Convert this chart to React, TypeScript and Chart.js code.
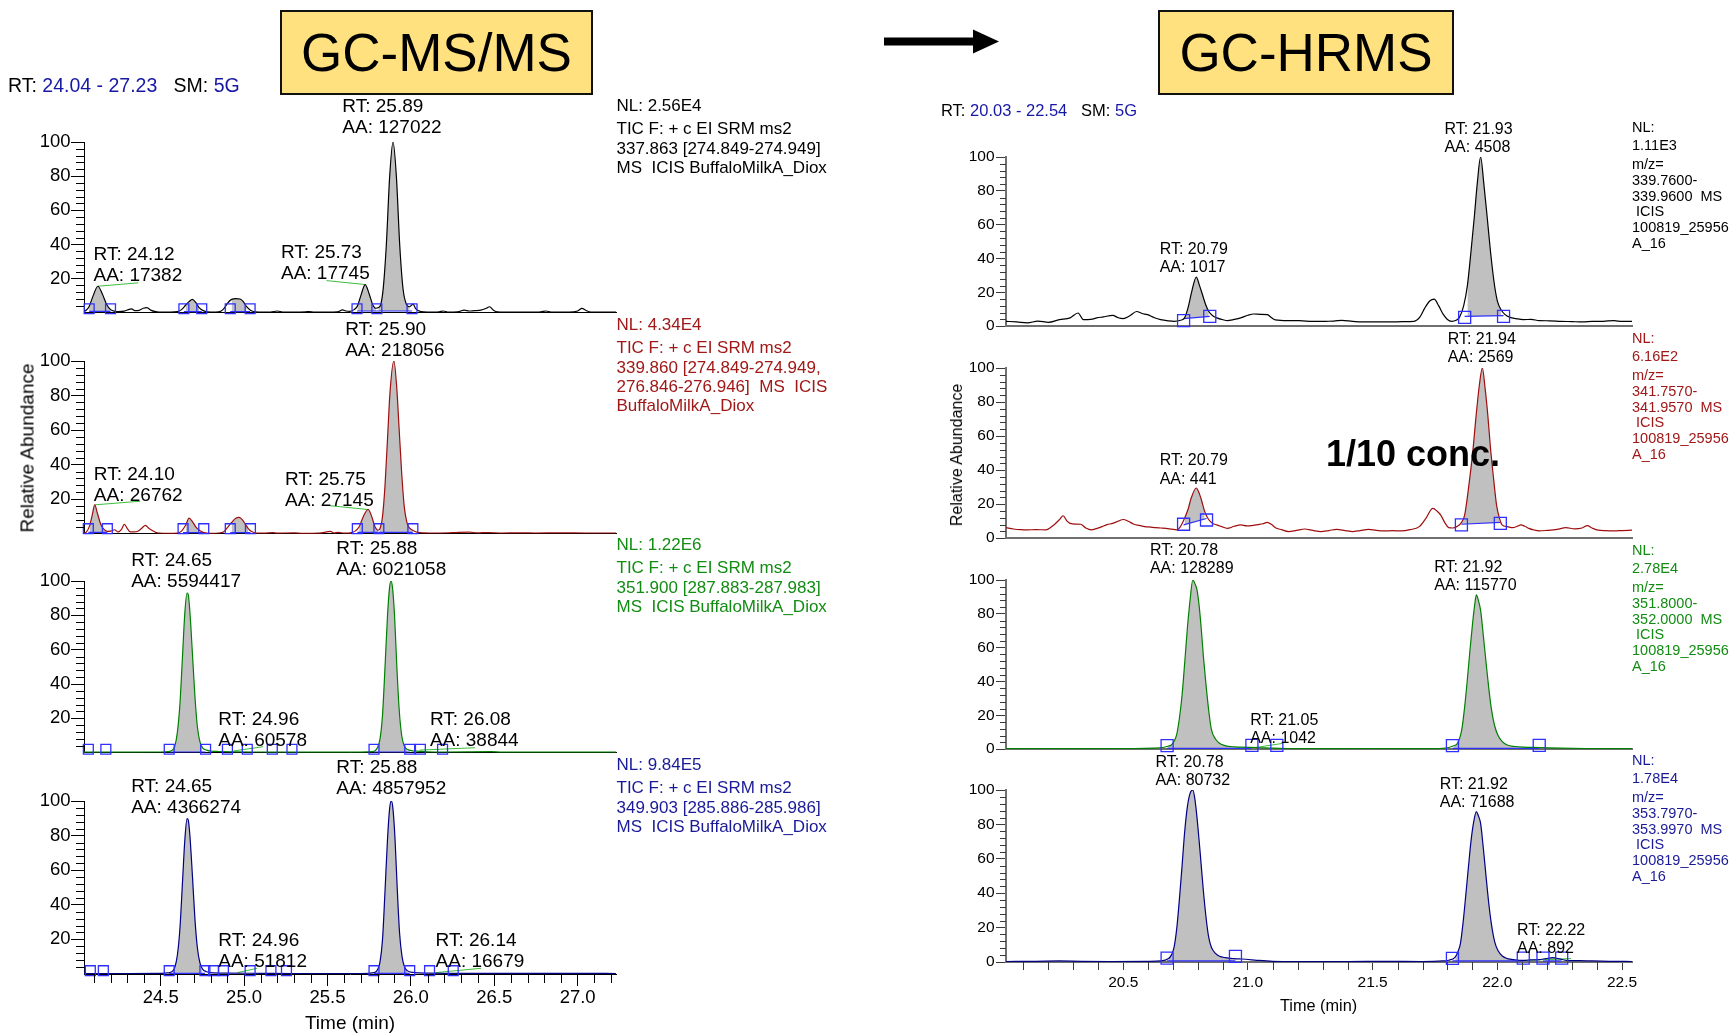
import React, { useEffect, useRef } from "react";
import { Chart, registerables } from "chart.js";

Chart.register(...registerables);

type P = [number, number];
type Seg = [P, P];

const FONT = '"Liberation Sans", Arial, Helvetica, sans-serif';

// ---------------- axes ----------------
const msTimeRange: P = [24.04, 27.23];
const hrTimeRange: P = [20.03, 22.54];
const msTimeTicks = [24.5, 25.0, 25.5, 26.0, 26.5, 27.0];
const hrTimeTicks = [20.5, 21.0, 21.5, 22.0, 22.5];
const msAbundTicks = [20, 40, 60, 80, 100];
const hrAbundTicks = [0, 20, 40, 60, 80, 100];

// ---------------- GC-MS/MS traces (time min, relative abundance %) ----------------
const msTrace337: P[] = [
  [24.04, 0.6], [24.05, 1.2], [24.07, 3.5], [24.095, 10], [24.123, 15.5], [24.15, 11], [24.175, 5], [24.2, 1.8], [24.225, 0.8],
  [24.25, 0.6], [24.28, 0.9], [24.3, 1.6], [24.325, 2.2], [24.345, 1.2], [24.37, 1.4], [24.395, 2.6], [24.418, 3], [24.44, 1.5],
  [24.47, 0.6], [24.51, 0.3], [24.56, 0.3], [24.6, 0.6], [24.625, 1.8], [24.65, 4.5], [24.67, 6.5], [24.69, 7.8], [24.71, 6],
  [24.73, 3], [24.755, 1.2], [24.78, 0.5], [24.83, 0.3], [24.86, 0.8], [24.88, 2.5], [24.9, 5.5], [24.925, 7.8], [24.95, 8.3],
  [24.975, 8], [24.995, 6.5], [25.015, 3.5], [25.04, 1.3], [25.07, 0.5], [25.11, 0.3], [25.16, 0.4], [25.2, 1], [25.23, 0.4],
  [25.3, 0.3], [25.37, 0.5], [25.39, 0.7], [25.42, 0.3], [25.5, 0.3], [25.56, 0.5], [25.59, 1.6], [25.61, 1], [25.635, 0.8],
  [25.66, 1.8], [25.68, 4], [25.7, 10], [25.726, 16.5], [25.75, 11], [25.77, 5], [25.79, 2.6], [25.805, 3], [25.82, 5],
  [25.835, 15], [25.853, 40], [25.873, 80], [25.893, 100], [25.913, 80], [25.933, 40], [25.953, 14], [25.973, 5], [25.993, 3.5],
  [26.013, 5], [26.03, 2.2], [26.06, 0.6], [26.1, 0.3], [26.17, 0.5], [26.195, 1], [26.22, 0.4], [26.28, 0.5], [26.32, 1.5],
  [26.35, 1], [26.38, 1.2], [26.42, 1.5], [26.45, 2.5], [26.472, 3.5], [26.495, 1.5], [26.52, 0.5], [26.6, 0.3], [26.7, 0.3],
  [26.78, 0.5], [26.81, 1], [26.84, 0.4], [26.95, 0.3], [27.0, 1], [27.026, 2.5], [27.05, 1.3], [27.08, 0.4], [27.15, 0.3], [27.23, 0.3],
];
const msTrace339: P[] = [
  [24.04, 0.4], [24.055, 1], [24.075, 5], [24.09, 11], [24.104, 16.7], [24.12, 12], [24.14, 5.5], [24.16, 2.5], [24.18, 1.4],
  [24.2, 1.5], [24.223, 2.3], [24.245, 1], [24.265, 2.5], [24.282, 5.4], [24.3, 3], [24.318, 1], [24.34, 1], [24.366, 1.6],
  [24.39, 3.5], [24.408, 4.8], [24.43, 3], [24.449, 1.8], [24.47, 0.8], [24.49, 0.4], [24.55, 0.2], [24.6, 0.3], [24.625, 1.5],
  [24.65, 5], [24.67, 9], [24.69, 7], [24.71, 4], [24.734, 1.8], [24.76, 0.6], [24.8, 0.2], [24.85, 0.4], [24.876, 1],
  [24.9, 3.5], [24.925, 6.5], [24.95, 9], [24.971, 9.4], [24.99, 8], [25.007, 5.5], [25.025, 3], [25.043, 1.4], [25.07, 0.4],
  [25.12, 0.3], [25.17, 0.7], [25.2, 0.3], [25.3, 0.5], [25.35, 0.2], [25.45, 0.3], [25.518, 1.3], [25.54, 0.4], [25.565, 0.8],
  [25.6, 0.3], [25.649, 0.8], [25.67, 1.8], [25.69, 4], [25.715, 10], [25.744, 14], [25.765, 10], [25.785, 4], [25.803, 2],
  [25.815, 3], [25.83, 10], [25.845, 28], [25.86, 55], [25.875, 82], [25.898, 100], [25.915, 85], [25.93, 60], [25.945, 35],
  [25.96, 16], [25.975, 7], [25.99, 3.5], [26.01, 2], [26.04, 0.8], [26.08, 0.5], [26.15, 0.4], [26.25, 0.6], [26.35, 0.9],
  [26.4, 0.5], [26.46, 0.7], [26.55, 0.4], [26.65, 0.5], [26.75, 0.4], [26.9, 0.5], [27.05, 0.4], [27.23, 0.4],
];
const msTrace351: P[] = [
  [24.04, 0.3], [24.3, 0.3], [24.5, 0.4], [24.54, 0.6], [24.57, 1.5], [24.585, 4], [24.6, 12], [24.615, 28], [24.63, 55],
  [24.645, 82], [24.658, 93], [24.665, 92], [24.675, 82], [24.69, 58], [24.705, 33], [24.72, 15], [24.735, 6.5], [24.75, 3],
  [24.775, 1.5], [24.8, 0.9], [24.85, 0.7], [24.95, 0.5], [25.1, 0.4], [25.3, 0.3], [25.6, 0.3], [25.77, 0.6], [25.8, 3],
  [25.815, 8], [25.83, 22], [25.845, 50], [25.86, 80], [25.872, 96], [25.881, 100], [25.89, 96], [25.902, 80], [25.915, 52],
  [25.93, 25], [25.945, 10], [25.96, 4], [25.98, 1.8], [26.01, 1.1], [26.05, 0.8], [26.1, 0.5], [26.2, 0.4], [26.48, 0.6],
  [26.55, 0.3], [27.23, 0.3],
];
const msTrace349: P[] = [
  [24.04, 0.3], [24.3, 0.3], [24.5, 0.4], [24.54, 0.6], [24.57, 1.5], [24.585, 4], [24.6, 11], [24.615, 26], [24.63, 52],
  [24.645, 78], [24.658, 89.8], [24.665, 89], [24.675, 80], [24.69, 57], [24.705, 32], [24.72, 15], [24.735, 6.5], [24.75, 3],
  [24.775, 1.3], [24.8, 0.8], [24.9, 0.5], [25.1, 0.4], [25.3, 0.3], [25.7, 0.3], [25.78, 0.8], [25.8, 2.5], [25.815, 7],
  [25.83, 20], [25.845, 48], [25.86, 78], [25.873, 96], [25.883, 100], [25.892, 96], [25.905, 78], [25.918, 50], [25.932, 24],
  [25.947, 10], [25.962, 4], [25.98, 1.8], [26.01, 0.9], [26.1, 0.5], [26.3, 0.4], [27.23, 0.3],
];

// ---------------- GC-HRMS traces ----------------
const hrTrace339: P[] = [
  [20.03, 2.9], [20.073, 2.5], [20.116, 2], [20.158, 3], [20.2, 2.3], [20.244, 3.9], [20.287, 4.9], [20.319, 7.8], [20.34, 3.9],
  [20.37, 4], [20.394, 4.9], [20.42, 5.5], [20.458, 6.4], [20.48, 5], [20.5, 4.5], [20.525, 6], [20.554, 8.7], [20.575, 7.5],
  [20.597, 6.8], [20.625, 5], [20.65, 3.9], [20.68, 3.2], [20.704, 2.9], [20.73, 3.5], [20.746, 4.9], [20.76, 11], [20.774, 20],
  [20.793, 29], [20.806, 24], [20.817, 19], [20.83, 13], [20.843, 8.7], [20.86, 6], [20.875, 4.9], [20.9, 3.8], [20.917, 3.3],
  [20.945, 4], [20.971, 4.9], [21.0, 6.5], [21.024, 7.2], [21.05, 7], [21.078, 6.8], [21.095, 5], [21.11, 3.7], [21.16, 3.3],
  [21.206, 3.3], [21.26, 2.8], [21.313, 2.9], [21.345, 3], [21.377, 3.5], [21.42, 2.8], [21.463, 2.5], [21.52, 2.6], [21.57, 2.5],
  [21.62, 2.7], [21.666, 2.9], [21.69, 5.5], [21.709, 10.7], [21.73, 15], [21.747, 16], [21.765, 12], [21.784, 6.8], [21.8, 4],
  [21.816, 2.9], [21.835, 3.5], [21.848, 5.2], [21.865, 12], [21.88, 24], [21.895, 45], [21.908, 65], [21.92, 85], [21.933, 100],
  [21.946, 84], [21.959, 65], [21.972, 45], [21.987, 26], [22.0, 15], [22.015, 9.7], [22.03, 7], [22.051, 5.2], [22.075, 4.5],
  [22.104, 3.9], [22.135, 4], [22.168, 3.3], [22.21, 3.2], [22.254, 2.9], [22.3, 2.7], [22.34, 2.5], [22.38, 2.8], [22.425, 2.9],
  [22.468, 3.3], [22.5, 2.8], [22.54, 2.9],
];
const hrTrace341: P[] = [
  [20.03, 6.2], [20.06, 5.4], [20.09, 5], [20.116, 4.9], [20.15, 5], [20.19, 4.9], [20.222, 7.8], [20.245, 11], [20.259, 13.2],
  [20.275, 10], [20.287, 8.7], [20.31, 8.3], [20.329, 8.2], [20.35, 6], [20.372, 4.9], [20.395, 5.8], [20.415, 6.8], [20.435, 8],
  [20.458, 8.7], [20.48, 10], [20.5, 11], [20.52, 10], [20.543, 8.2], [20.565, 7.5], [20.586, 6.8], [20.61, 6.5], [20.629, 6.2],
  [20.65, 6], [20.672, 5.8], [20.694, 5.3], [20.714, 4.9], [20.73, 7], [20.746, 11.7], [20.76, 17], [20.772, 23.3], [20.793, 29.5],
  [20.803, 27], [20.814, 22.3], [20.826, 16], [20.838, 12], [20.855, 9], [20.875, 7.8], [20.895, 6.8], [20.917, 5.8], [20.945, 7],
  [20.971, 7.8], [20.995, 7.2], [21.014, 7.4], [21.04, 8], [21.06, 8.5], [21.078, 9.3], [21.095, 8], [21.11, 6.2], [21.135, 5],
  [21.163, 3.9], [21.195, 4.6], [21.228, 5.4], [21.26, 4.6], [21.292, 3.9], [21.325, 4.5], [21.356, 5.2], [21.39, 4.5], [21.42, 3.9],
  [21.45, 4.5], [21.484, 5.2], [21.515, 4.6], [21.548, 4.3], [21.58, 4.4], [21.613, 4.3], [21.65, 5], [21.687, 6.8], [21.715, 12],
  [21.741, 17.5], [21.758, 16], [21.773, 13.6], [21.79, 9], [21.805, 6.2], [21.822, 6], [21.837, 6.8], [21.855, 9], [21.869, 13.6],
  [21.885, 30], [21.901, 50], [21.915, 72], [21.928, 90], [21.94, 100], [21.951, 88], [21.962, 72], [21.972, 54], [21.985, 35],
  [21.997, 19.4], [22.008, 12], [22.019, 7.8], [22.04, 6.8], [22.062, 6.2], [22.08, 7], [22.094, 7.8], [22.11, 7], [22.126, 5.8],
  [22.148, 4.8], [22.168, 4.3], [22.2, 4.6], [22.24, 5.2], [22.275, 6.2], [22.31, 5.5], [22.34, 6], [22.361, 7.4], [22.38, 6],
  [22.404, 4.7], [22.435, 4.4], [22.468, 4.3], [22.5, 4.5], [22.54, 4.7],
];
const hrTrace351: P[] = [
  [20.03, 0.3], [20.2, 0.4], [20.3, 0.3], [20.45, 0.4], [20.543, 0.4], [20.62, 0.6], [20.66, 1], [20.68, 1.8], [20.693, 2.5],
  [20.705, 5], [20.714, 8.4], [20.725, 18], [20.736, 32], [20.747, 52], [20.757, 71], [20.768, 88], [20.779, 100], [20.787, 98],
  [20.796, 94], [20.805, 84], [20.813, 71], [20.822, 54], [20.832, 38], [20.842, 24], [20.853, 12], [20.87, 6], [20.886, 3.5],
  [20.905, 2.3], [20.928, 1.6], [20.971, 1.2], [21.035, 1], [21.099, 0.6], [21.16, 0.4], [21.3, 0.3], [21.5, 0.4], [21.7, 0.3],
  [21.78, 0.5], [21.805, 1], [21.825, 2], [21.837, 2.9], [21.848, 6], [21.858, 12], [21.869, 25], [21.88, 41.5], [21.89, 58],
  [21.901, 74.7], [21.909, 85], [21.916, 91.2], [21.924, 88], [21.933, 82], [21.944, 67], [21.955, 51], [21.965, 37], [21.976, 24],
  [21.989, 14], [22.002, 8.4], [22.02, 4.5], [22.04, 2.5], [22.07, 1.6], [22.104, 1.2], [22.168, 1], [22.254, 0.6], [22.35, 0.4],
  [22.54, 0.3],
];
const hrTrace353: P[] = [
  [20.03, 0.3], [20.15, 0.4], [20.244, 0.6], [20.33, 0.4], [20.45, 0.3], [20.6, 0.4], [20.65, 0.6], [20.682, 2], [20.693, 4],
  [20.704, 8.7], [20.715, 20], [20.725, 36], [20.736, 56], [20.746, 75], [20.757, 90], [20.768, 98], [20.779, 100], [20.786, 96],
  [20.793, 88], [20.801, 76], [20.81, 61], [20.821, 42], [20.832, 26], [20.842, 15], [20.853, 8.7], [20.87, 5], [20.886, 3.3],
  [20.91, 2.5], [20.939, 2], [20.965, 1.8], [20.992, 1.6], [21.035, 1], [21.099, 0.4], [21.2, 0.3], [21.4, 0.3], [21.55, 0.4],
  [21.7, 0.3], [21.78, 0.6], [21.805, 1], [21.831, 2.9], [21.842, 6], [21.852, 10.7], [21.862, 22], [21.873, 38], [21.884, 55],
  [21.895, 71], [21.906, 82], [21.916, 87.4], [21.924, 85], [21.933, 80.6], [21.944, 66], [21.955, 49.5], [21.965, 35],
  [21.976, 22.3], [21.989, 12], [22.002, 6.8], [22.02, 3.5], [22.04, 2], [22.07, 1.3], [22.104, 1], [22.135, 1.2], [22.168, 1.4],
  [22.195, 2], [22.222, 2.5], [22.25, 1.8], [22.275, 1], [22.33, 0.8], [22.382, 0.6], [22.45, 0.4], [22.54, 0.3],
];

// ---------------- peak integration marks (squares), baselines, label links ----------------
const msSquares337: P[] = [[24.071, 2.3], [24.199, 2.3], [24.639, 2.3], [24.746, 2.3], [24.917, 2.3], [25.036, 2.3], [25.677, 2.3], [25.796, 2.3], [26.007, 2.3]];
const msBase337: Seg[] = [[[24.071, 0.8], [24.199, 0.8]], [[24.639, 0.6], [24.746, 0.6]], [[24.917, 0.6], [25.036, 0.6]], [[25.677, 1], [25.796, 1]], [[25.796, 1], [26.007, 1]]];
const msLinks337: Seg[] = [[[24.123, 15.5], [24.366, 17.5]], [[25.494, 18.8], [25.726, 16.5]]];

const msSquares339: P[] = [[24.066, 2.9], [24.18, 2.9], [24.634, 2.9], [24.758, 2.9], [24.917, 2.9], [25.038, 2.9], [25.679, 2.9], [25.808, 2.9], [26.012, 2.9]];
const msBase339: Seg[] = [[[24.066, 0.8], [24.18, 0.8]], [[24.634, 0.6], [24.758, 0.6]], [[24.917, 0.6], [25.038, 0.6]], [[25.679, 0.8], [25.808, 0.8]], [[25.808, 0.8], [26.012, 0.8]]];
const msLinks339: Seg[] = [[[24.104, 16.7], [24.377, 18.8]], [[25.506, 16.3], [25.744, 14]]];

const msSquares351: P[] = [[24.066, 2], [24.171, 2], [24.551, 2], [24.769, 2], [24.9, 2], [25.019, 2], [25.169, 2], [25.287, 2], [25.779, 2], [25.993, 2], [26.057, 2], [26.19, 2]];
const msBase351: Seg[] = [[[24.551, 0.4], [24.769, 0.4]], [[25.779, 0.4], [25.993, 0.4]]];
const msLinks351: Seg[] = [[[24.936, 1], [25.114, 3.5]], [[26.052, 1.5], [26.385, 2.9]]];

const msSquares349: P[] = [[24.078, 1.9], [24.156, 1.9], [24.551, 1.9], [24.765, 1.9], [24.817, 1.9], [24.876, 1.9], [25.036, 1.9], [25.161, 1.9], [25.254, 1.9], [25.779, 1.9], [25.993, 1.9], [26.112, 1.9], [26.254, 1.9]];
const msBase349: Seg[] = [[[24.551, 0.4], [24.765, 0.4]], [[25.779, 0.4], [25.993, 0.4]]];
const msLinks349: Seg[] = [[[24.96, 0.8], [25.078, 3.3]], [[26.148, 0.8], [26.421, 3.3]]];

const hrSquares339: P[] = [[20.742, 3.3], [20.847, 5.8], [21.869, 5.2], [22.025, 5.8]];
const hrBase339: Seg[] = [[[20.742, 4.5], [20.847, 5.8]], [[21.869, 5.8], [22.025, 6.2]]];
const hrSquares341: P[] = [[20.742, 8.2], [20.834, 10.7], [21.856, 7.8], [22.012, 8.7]];
const hrBase341: Seg[] = [[[20.742, 7.8], [20.834, 11.6]], [[21.856, 8.2], [22.012, 9.3]]];
const hrSquares351: P[] = [[20.676, 2.1], [21.016, 2.3], [21.116, 2.3], [21.82, 2.1], [22.168, 2.3]];
const hrBase351: Seg[] = [[[20.676, 0.5], [21.016, 0.5]], [[21.82, 0.5], [22.168, 0.5]]];
const hrLinks351: Seg[] = [[[21.014, 0.6], [21.142, 3.5]]];
const hrSquares353: P[] = [[20.676, 2.3], [20.95, 3.3], [21.82, 2.1], [22.104, 2.3], [22.183, 2.3], [22.258, 2.3]];
const hrBase353: Seg[] = [[[20.676, 0.6], [20.95, 0.6]], [[21.82, 0.6], [22.104, 0.6]], [[22.183, 0.6], [22.258, 0.6]]];
const hrLinks353: Seg[] = [[[22.126, 1], [22.296, 2]]];

// ---------------- peak labels: [RT, AA] and anchor (time, abundance) ----------------
const msPeaks337 = [["24.12", "17382"], ["25.73", "17745"], ["25.89", "127022"]];
const msLabelAt337: P[] = [[24.097, 18.4], [25.221, 19.8], [25.589, 105]];
const msPeaks339 = [["24.10", "26762"], ["25.75", "27145"], ["25.90", "218056"]];
const msLabelAt339: P[] = [[24.099, 19.2], [25.245, 16.3], [25.606, 102.9]];
const msPeaks351 = [["24.65", "5594417"], ["25.88", "6021058"], ["24.96", "60578"], ["26.08", "38844"]];
const msLabelAt351: P[] = [[24.323, 96.3], [25.553, 103.5], [24.845, 4], [26.114, 4]];
const msPeaks349 = [["24.65", "4366274"], ["25.88", "4857952"], ["24.96", "51812"], ["26.14", "16679"]];
const msLabelAt349: P[] = [[24.323, 92.9], [25.553, 103.9], [24.845, 4.2], [26.148, 4.2]];

const hrPeaks339 = [["20.79", "1017"], ["21.93", "4508"]];
const hrLabelAt339: P[] = [[20.646, 32], [21.788, 103]];
const hrPeaks341 = [["20.79", "441"], ["21.94", "2569"]];
const hrLabelAt341: P[] = [[20.646, 32], [21.801, 103.3]];
const hrPeaks351 = [["20.78", "128289"], ["21.92", "115770"], ["21.05", "1042"]];
const hrLabelAt351: P[] = [[20.607, 103.9], [21.747, 94], [21.009, 3.5]];
const hrPeaks353 = [["20.78", "80732"], ["21.92", "71688"], ["22.22", "892"]];
const hrLabelAt353: P[] = [[20.629, 102.9], [21.769, 90], [22.079, 5]];

// ---------------- side texts ----------------
const msInfo337 = ["NL: 2.56E4", "TIC F: + c EI SRM ms2", "337.863 [274.849-274.949]", "MS  ICIS BuffaloMilkA_Diox"];
const msInfo339 = ["NL: 4.34E4", "TIC F: + c EI SRM ms2", "339.860 [274.849-274.949,", "276.846-276.946]  MS  ICIS", "BuffaloMilkA_Diox"];
const msInfo351 = ["NL: 1.22E6", "TIC F: + c EI SRM ms2", "351.900 [287.883-287.983]", "MS  ICIS BuffaloMilkA_Diox"];
const msInfo349 = ["NL: 9.84E5", "TIC F: + c EI SRM ms2", "349.903 [285.886-285.986]", "MS  ICIS BuffaloMilkA_Diox"];
const hrInfo339 = ["NL:", "1.11E3", "m/z=", "339.7600-", "339.9600  MS", " ICIS", "100819_25956", "A_16"];
const hrInfo341 = ["NL:", "6.16E2", "m/z=", "341.7570-", "341.9570  MS", " ICIS", "100819_25956", "A_16"];
const hrInfo351 = ["NL:", "2.78E4", "m/z=", "351.8000-", "352.0000  MS", " ICIS", "100819_25956", "A_16"];
const hrInfo353 = ["NL:", "1.78E4", "m/z=", "353.7970-", "353.9970  MS", " ICIS", "100819_25956", "A_16"];

// ---------------- styles ----------------
const TR_BLACK = "#000000";
const TR_RED = "#9E0E0E";
const TR_GREEN = "#008000";
const TR_NAVY = "#000084";
const TX_RED = "#A11818";
const TX_GREEN = "#138C13";
const TX_NAVY = "#1A1A98";
const HEAD_BLUE = "#1717A6";
const SQ_BLUE = "#2F2FFF";
const LINK_GREEN = "#3CBD3C";
const FILL_GRAY = "#C0C0C0";

interface Panel {
  hr: boolean;
  top: number;
  bottom: number;
  showTime: boolean;
  trace: P[];
  squares: P[];
  baselines: Seg[];
  links: Seg[];
  peaks: string[][];
  labelAt: P[];
  color: string;
  info: string[];
  infoColor: string;
}

const panels: Panel[] = [
  { hr: false, top: 142, bottom: 313, showTime: false, trace: msTrace337, squares: msSquares337, baselines: msBase337, links: msLinks337, peaks: msPeaks337, labelAt: msLabelAt337, color: TR_BLACK, info: msInfo337, infoColor: "#000" },
  { hr: false, top: 361, bottom: 534, showTime: false, trace: msTrace339, squares: msSquares339, baselines: msBase339, links: msLinks339, peaks: msPeaks339, labelAt: msLabelAt339, color: TR_RED, info: msInfo339, infoColor: TX_RED },
  { hr: false, top: 581, bottom: 753, showTime: false, trace: msTrace351, squares: msSquares351, baselines: msBase351, links: msLinks351, peaks: msPeaks351, labelAt: msLabelAt351, color: TR_GREEN, info: msInfo351, infoColor: TX_GREEN },
  { hr: false, top: 801, bottom: 974, showTime: true, trace: msTrace349, squares: msSquares349, baselines: msBase349, links: msLinks349, peaks: msPeaks349, labelAt: msLabelAt349, color: TR_NAVY, info: msInfo349, infoColor: TX_NAVY },
  { hr: true, top: 157, bottom: 328, showTime: false, trace: hrTrace339, squares: hrSquares339, baselines: hrBase339, links: [], peaks: hrPeaks339, labelAt: hrLabelAt339, color: TR_BLACK, info: hrInfo339, infoColor: "#000" },
  { hr: true, top: 368, bottom: 540, showTime: false, trace: hrTrace341, squares: hrSquares341, baselines: hrBase341, links: [], peaks: hrPeaks341, labelAt: hrLabelAt341, color: TR_RED, info: hrInfo341, infoColor: TX_RED },
  { hr: true, top: 580, bottom: 751, showTime: false, trace: hrTrace351, squares: hrSquares351, baselines: hrBase351, links: hrLinks351, peaks: hrPeaks351, labelAt: hrLabelAt351, color: TR_GREEN, info: hrInfo351, infoColor: TX_GREEN },
  { hr: true, top: 790, bottom: 962, showTime: true, trace: hrTrace353, squares: hrSquares353, baselines: hrBase353, links: hrLinks353, peaks: hrPeaks353, labelAt: hrLabelAt353, color: TR_NAVY, info: hrInfo353, infoColor: TX_NAVY },
];

const GEOM = {
  ms: { canvasLeft: 0, plotLeft: 84, plotRight: 616, canvasRight: 634 },
  hr: { canvasLeft: 920, plotLeft: 1006, plotRight: 1632, canvasRight: 1648 },
};
const PAD_TOP = 62;

function panelBox(p: Panel) {
  const g = p.hr ? GEOM.hr : GEOM.ms;
  const xh = p.showTime ? 52 : 8;
  return {
    left: g.canvasLeft,
    top: p.top - PAD_TOP,
    width: g.canvasRight - g.canvasLeft,
    height: PAD_TOP + (p.bottom - p.top) + xh,
    xh,
    g,
  };
}

const toXY = (pts: P[]) => pts.map(([x, y]) => ({ x, y }));

function makeChart(canvas: HTMLCanvasElement, p: Panel) {
  const box = panelBox(p);
  const g = box.g;
  const axisColor = p.hr ? "#707070" : "#000";
  const axisWidth = p.hr ? 2 : 1;
  const tickColor = p.hr ? "#3a3a3a" : "#000";
  const yMajorLen = p.hr ? 10 : 13;
  const yMinorLen = p.hr ? 6 : 8;
  const xMajorLen = p.hr ? 8 : 12;
  const xMinorLen = p.hr ? 8 : 9;
  const tickFont = p.hr ? 15.5 : 18.5;
  const labelFont = p.hr ? 16 : 19;
  const labelLH = p.hr ? 18.3 : 21;
  const sqR = p.hr ? 8.5 : 7;
  const range = p.hr ? hrTimeRange : msTimeRange;
  const timeTicks = p.hr ? hrTimeTicks : msTimeTicks;
  const abundTicks = p.hr ? hrAbundTicks : msAbundTicks;

  const datasets: any[] = [];
  datasets.push({
    data: toXY(p.squares), showLine: false, pointStyle: "rect", pointRadius: sqR,
    pointBorderColor: SQ_BLUE, pointBackgroundColor: "rgba(0,0,0,0)", pointBorderWidth: 1.3, order: 0, clip: false,
  });
  datasets.push({
    data: toXY(p.trace), borderColor: p.color, borderWidth: 1.2, pointRadius: 0,
    cubicInterpolationMode: "monotone", fill: false, order: 1,
  });
  p.links.forEach((s) => datasets.push({ data: toXY(s), borderColor: LINK_GREEN, borderWidth: 1, pointRadius: 0, fill: false, order: 2 }));
  const baseIdx: number[] = [];
  p.baselines.forEach((s) => {
    baseIdx.push(datasets.length);
    datasets.push({ data: toXY(s), borderColor: SQ_BLUE, borderWidth: 1.2, pointRadius: 0, fill: false, order: 3 });
  });
  p.baselines.forEach((s, i) => {
    const a = s[0][0] - 0.002;
    const b = s[1][0] + 0.002;
    datasets.push({
      data: toXY(p.trace.filter((q) => q[0] >= a && q[0] <= b)),
      borderColor: "rgba(0,0,0,0)", borderWidth: 0, pointRadius: 0, cubicInterpolationMode: "monotone",
      fill: baseIdx[i], backgroundColor: FILL_GRAY, order: 4,
    });
  });

  const decor = {
    id: "chromDecor",
    afterDraw(chart: any) {
      const { ctx, chartArea: a, scales } = chart;
      const xs = scales.x;
      const ys = scales.y;
      ctx.save();
      ctx.strokeStyle = tickColor;
      ctx.lineWidth = 1;
      ctx.beginPath();
      for (let v = 4; v < 100; v += 4) {
        if (v % 20 === 0) continue;
        const y = Math.round(ys.getPixelForValue(v)) + 0.5;
        ctx.moveTo(a.left - yMinorLen, y);
        ctx.lineTo(a.left, y);
      }
      if (p.showTime) {
        for (let k = Math.ceil(range[0] * 10); k <= Math.floor(range[1] * 10); k++) {
          if (k % 5 === 0) continue;
          const x = Math.round(xs.getPixelForValue(k / 10)) + 0.5;
          ctx.moveTo(x, a.bottom);
          ctx.lineTo(x, a.bottom + xMinorLen);
        }
      }
      ctx.stroke();
      ctx.fillStyle = "#000";
      ctx.font = `${labelFont}px ${FONT}`;
      ctx.textAlign = "left";
      ctx.textBaseline = "alphabetic";
      p.peaks.forEach(([rt, aa], i) => {
        const [t, v] = p.labelAt[i];
        const x = xs.getPixelForValue(t);
        const y = ys.getPixelForValue(v);
        ctx.fillText(`AA: ${aa}`, x, y);
        ctx.fillText(`RT: ${rt}`, x, y - labelLH);
      });
      ctx.restore();
    },
  };

  return new Chart(canvas, {
    type: "line",
    data: { datasets },
    options: {
      responsive: false,
      animation: false,
      events: [],
      layout: { padding: { top: PAD_TOP, right: g.canvasRight - g.plotRight, left: 0, bottom: 0 } },
      plugins: { legend: { display: false }, tooltip: { enabled: false } },
      scales: {
        x: {
          type: "linear",
          min: range[0],
          max: range[1],
          afterBuildTicks: (s: any) => {
            s.ticks = p.showTime ? timeTicks.map((v) => ({ value: v })) : [];
          },
          afterFit: (s: any) => {
            s.height = box.xh;
            s.paddingLeft = 0;
            s.paddingRight = 0;
          },
          ticks: {
            display: p.showTime, autoSkip: false, maxRotation: 0, minRotation: 0,
            font: { family: FONT, size: tickFont }, color: "#000", padding: p.hr ? 3.5 : 1,
            callback: (v: any) => Number(v).toFixed(1),
          },
          grid: { display: p.showTime, drawOnChartArea: false, drawTicks: true, tickLength: xMajorLen, color: tickColor, tickColor, lineWidth: 1 },
          border: { display: true, color: axisColor, width: axisWidth },
        },
        y: {
          type: "linear",
          min: 0,
          max: 100,
          afterBuildTicks: (s: any) => {
            s.ticks = abundTicks.map((v) => ({ value: v }));
          },
          afterFit: (s: any) => {
            s.width = g.plotLeft - g.canvasLeft;
            s.paddingTop = 0;
            s.paddingBottom = 0;
          },
          ticks: { autoSkip: false, font: { family: FONT, size: tickFont }, color: "#000", padding: p.hr ? 1.5 : 0.5 },
          grid: { drawOnChartArea: false, drawTicks: true, tickLength: yMajorLen, color: tickColor, tickColor, lineWidth: 1 },
          border: { display: true, color: axisColor, width: axisWidth },
        },
      },
    } as any,
    plugins: [decor],
  });
}

function ChromPanel({ p }: { p: Panel }) {
  const ref = useRef<HTMLCanvasElement>(null);
  const box = panelBox(p);
  useEffect(() => {
    if (!ref.current) return;
    const chart = makeChart(ref.current, p);
    return () => chart.destroy();
  }, []);
  return (
    <canvas
      ref={ref}
      width={box.width}
      height={box.height}
      style={{ position: "absolute", left: box.left, top: box.top, width: box.width, height: box.height }}
    />
  );
}

function Lines({ x, y, lines, size, lh, color = "#000", bold = false, center = false }: {
  x: number; y: number; lines: React.ReactNode[]; size: number; lh: number; color?: string; bold?: boolean; center?: boolean;
}) {
  return (
    <div
      style={{
        position: "absolute", left: x, top: y - lh / 2, fontFamily: FONT, fontSize: size, lineHeight: `${lh}px`,
        color, whiteSpace: "pre", fontWeight: bold ? "bold" : "normal",
        transform: center ? "translateX(-50%)" : undefined,
      }}
    >
      {lines.map((l, i) => (
        <div key={i}>{l}</div>
      ))}
    </div>
  );
}

function Rotated({ x, y, text, size }: { x: number; y: number; text: string; size: number }) {
  return (
    <div
      style={{
        position: "absolute", left: x, top: y, fontFamily: FONT, fontSize: size, lineHeight: 1, whiteSpace: "pre",
        transform: "translate(-50%, -50%) rotate(-90deg)", color: "#000",
      }}
    >
      {text}
    </div>
  );
}

function TitleBox({ x, y, w, h, text }: { x: number; y: number; w: number; h: number; text: string }) {
  return (
    <div
      style={{
        position: "absolute", left: x, top: y, width: w, height: h, boxSizing: "border-box",
        border: "2px solid #111", background: "#FFE27F", display: "flex", alignItems: "center",
        justifyContent: "center", fontFamily: FONT, fontSize: 53, lineHeight: 1, color: "#000",
      }}
    >
      {text}
    </div>
  );
}

export default function App() {
  return (
    <div style={{ position: "absolute", left: 0, top: 0, width: 1733, height: 1034, background: "#fff", overflow: "hidden" }}>
      {panels.map((p, i) => (
        <ChromPanel key={i} p={p} />
      ))}

      {/* headers */}
      <Lines
        x={8} y={84.5} size={19.5} lh={22}
        lines={[<span key="h">RT: <span style={{ color: HEAD_BLUE }}>24.04 - 27.23</span>{"   "}SM: <span style={{ color: HEAD_BLUE }}>5G</span></span>]}
      />
      <Lines
        x={941} y={110.5} size={16.5} lh={19}
        lines={[<span key="h">RT: <span style={{ color: HEAD_BLUE }}>20.03 - 22.54</span>{"   "}SM: <span style={{ color: HEAD_BLUE }}>5G</span></span>]}
      />

      <TitleBox x={280} y={10} w={313} h={85} text="GC-MS/MS" />
      <TitleBox x={1158} y={10} w={296} h={85} text="GC-HRMS" />

      <svg style={{ position: "absolute", left: 0, top: 0 }} width={1733} height={120}>
        <rect x={884} y={37.5} width={92} height={8} fill="#000" />
        <polygon points="973,29.5 999,41.5 973,53.5" fill="#000" />
      </svg>

      {/* info blocks */}
      {panels.map((p, i) =>
        p.hr ? (
          <React.Fragment key={"i" + i}>
            <Lines x={1632} y={p.top - 29} size={14.5} lh={17.5} color={p.infoColor} lines={p.info.slice(0, 2)} />
            <Lines x={1632} y={p.top + 8} size={14.5} lh={15.8} color={p.infoColor} lines={p.info.slice(2)} />
          </React.Fragment>
        ) : (
          <React.Fragment key={"i" + i}>
            <Lines x={616.5} y={p.top - 36} size={17} lh={18} color={p.infoColor} lines={p.info.slice(0, 1)} />
            <Lines x={616.5} y={p.top - 13} size={17} lh={19.2} color={p.infoColor} lines={p.info.slice(1)} />
          </React.Fragment>
        )
      )}

      <Rotated x={26.5} y={448} text="Relative Abundance" size={19} />
      <Rotated x={957} y={455} text="Relative Abundance" size={16} />

      <Lines x={350} y={1023} size={19} lh={22} center lines={["Time (min)"]} />
      <Lines x={1318.6} y={1005} size={16.3} lh={19} center lines={["Time (min)"]} />

      <Lines x={1326} y={454} size={36} lh={40} bold lines={["1/10 conc."]} />
    </div>
  );
}
